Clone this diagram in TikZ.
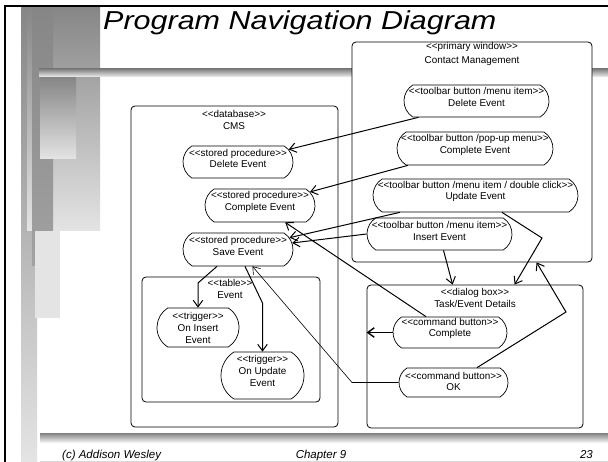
\documentclass[tikz,border=0pt]{standalone}
\usepackage{fontspec}
\setmainfont{Liberation Sans}[Ligatures=TeXOff]
\usetikzlibrary{arrows.meta,shapes.misc}

\definecolor{shadeDark}{HTML}{868686}
\definecolor{shadeMid}{HTML}{A2A2A2}
\definecolor{shadeLight}{HTML}{E4E4E4}
\definecolor{barTop}{HTML}{808080}
\definecolor{barBottom}{HTML}{F0F0F0}

\tikzset{
  frame/.style={draw=black, line width=0.8pt, rounded corners=4pt, fill=white,
    inner sep=0pt, rectangle},
  btn/.style={draw=black, line width=0.7pt, fill=white, rounded rectangle,
    rounded rectangle arc length=115, inner sep=0pt},
  lbl/.style={font=\fontsize{9.9}{11.5}\selectfont, align=center, inner sep=0pt},
  tall/.style={font=\fontsize{9.9}{12}\selectfont},
  link/.style={line width=1pt, -{Straight Barb[length=6.5pt,width=9.5pt]}},
  thinlink/.style={line width=0.6pt, -{Straight Barb[length=6.5pt,width=9.5pt]}},
  boldlink/.style={line width=1.4pt, -{Straight Barb[length=6.5pt,width=9.5pt]}},
  foot/.style={font=\fontsize{11.5}{12}\selectfont\itshape, inner sep=0pt, anchor=base},
}

\begin{document}
\begin{tikzpicture}[x=1pt, y=-1pt]
\useasboundingbox (0,0) rectangle (608,462);
\fill[white] (0,0) rectangle (608,462);

% slide decoration: shaded blocks on the left
\shade[top color=shadeDark, bottom color=shadeLight] (21,7) rectangle (37,462);
\shade[top color=shadeDark, bottom color=shadeLight] (27,7) rectangle (100,231);
\shade[top color=shadeDark, bottom color=shadeMid] (32,7) rectangle (53,266);
\shade[top color=shadeDark, bottom color=shadeLight] (40,77) rectangle (76,159);
\fill[shadeLight] (35,231) rectangle (60,318);

% horizontal rules
\shade[top color=barTop, bottom color=barBottom] (39,69) rectangle (608,77);
\shade[top color=barTop, bottom color=barBottom] (40,433) rectangle (608,442);
\draw[line width=1pt, draw=black!15] (40,461) -- (608,461);

% slide frame
\draw[line width=2pt] (5,462) -- (5,6) -- (608,6);

% title
\node[anchor=base west, inner sep=0pt] (title) at (103,29.5)
  {\scalebox{1}[0.85]{\fontsize{30.5}{30}\selectfont\itshape Program Navigation Diagram}};

% containers
\node[frame, minimum width=240pt, minimum height=220pt] (prim) at (472,152) {};
\node[frame, minimum width=207pt, minimum height=321pt] (cms) at (234.5,266.5) {};
\node[frame, minimum width=178pt, minimum height=125pt] (tbl) at (231,339.5) {};
\node[frame, minimum width=216pt, minimum height=143pt] (dlg) at (475,356.5) {};

\node[lbl] (primS) at (472,47) {<<primary window>>};
\node[lbl] (primN) at (472,61) {Contact Management};
\node[lbl] (cmsS) at (234,114) {<<database>>};
\node[lbl] (cmsN) at (234,126) {CMS};
\node[lbl] (tblS) at (230,283) {<<table>>};
\node[lbl] (tblN) at (230,295) {Event};
\node[lbl] (dlgS) at (475,293) {<<dialog box>>};
\node[lbl] (dlgN) at (475,304) {Task/Event Details};

% user interface elements
\node[btn, minimum width=145pt, minimum height=32pt] (tbDel) at (476.5,101) {};
\node[btn, minimum width=156pt, minimum height=33pt] (tbComp) at (475,148.5) {};
\node[btn, minimum width=205pt, minimum height=33pt] (tbUpd) at (475.5,195.5) {};
\node[btn, minimum width=145pt, minimum height=32pt] (tbIns) at (439.5,234) {};
\node[btn, minimum width=114pt, minimum height=31pt] (cbComp) at (450,332.5) {};
\node[btn, minimum width=109pt, minimum height=29pt] (cbOK) at (453.5,382.5) {};

% database elements
\node[btn, minimum width=110pt, minimum height=32pt] (spDel) at (238,162) {};
\node[btn, minimum width=110pt, minimum height=33pt] (spComp) at (260,205.5) {};
\node[btn, minimum width=110pt, minimum height=33pt] (spSave) at (238,249.5) {};
\node[btn, minimum width=82pt, minimum height=39pt] (trIns) at (198,327.5) {};
\node[btn, minimum width=83pt, minimum height=47pt] (trUpd) at (262.5,375.5) {};

% element texts
\node[lbl] (tbDelT) at (476.5,97) {<<toolbar button /menu item>>\\Delete Event};
\node[lbl] (tbCompT) at (475,145) {<<toolbar button /pop-up menu>>\\Complete Event};
\node[lbl] (tbUpdT) at (475.5,191.5) {<<toolbar button /menu item / double click>>\\Update Event};
\node[lbl] (tbInsT) at (439.5,231) {<<toolbar button /menu item>>\\Insert Event};
\node[lbl] (cbCompT) at (450,328.5) {<<command button>>\\Complete};
\node[lbl] (cbOKT) at (453.5,381.5) {<<command button>>\\OK};
\node[lbl] (spDelT) at (238,158.5) {<<stored procedure>>\\Delete Event};
\node[lbl] (spCompT) at (260,202) {<<stored procedure>>\\Complete Event};
\node[lbl] (spSaveT) at (238,246) {<<stored procedure>>\\Save Event};
\node[lbl, tall] (trInsT) at (198,327.5) {<<trigger>>\\On Insert\\Event};
\node[lbl, tall] (trUpdT) at (262.5,370.5) {<<trigger>>\\On Update\\Event};

% bend points
\coordinate (okBend) at (352,382.5);
\coordinate (insBend) at (198,283);
\coordinate (updBend) at (262.5,303);
\coordinate (updRight) at (542,238);
\coordinate (okRight) at (566,312);

% navigation links
\draw[link] ([xshift=-58pt]tbDel.south) -- (spDel);
\draw[link] ([xshift=-67pt]tbComp.south) -- (spComp);
\draw[link] ([xshift=-75.5pt]tbUpd.south) -- (spSave);
\draw[link] (tbIns.west) -- (spSave);
\draw[link] ([xshift=-24pt]cbComp.north) -- (spComp);
\draw[thinlink] (cbOK.west) -- (okBend) -- (spSave);
\draw[link] ([xshift=-21pt]spSave.south) -- (insBend) -- (trIns.north);
\draw[link] ([xshift=7pt]spSave.south) -- (updBend) -- (trUpd.north);
\draw[boldlink] (cbComp.west) -- (cbComp.west -| dlg.west);
\draw[link] ([xshift=4pt]tbIns.south) -- ([xshift=86pt]dlg.north west);
\draw[link] ([xshift=26.5pt]tbUpd.south) -- (updRight) -- ([xshift=148pt]dlg.north west);
\draw[link] ([xshift=23.5pt]cbOK.north) -- (okRight) -- ([xshift=185pt]prim.south west);

% footer
\node[foot, anchor=base west] (copy) at (62,458) {(c) Addison Wesley};
\node[foot] (chap) at (321,458) {Chapter 9};
\node[foot, anchor=base east] (page) at (593,458) {23};
\end{tikzpicture}
\end{document}
